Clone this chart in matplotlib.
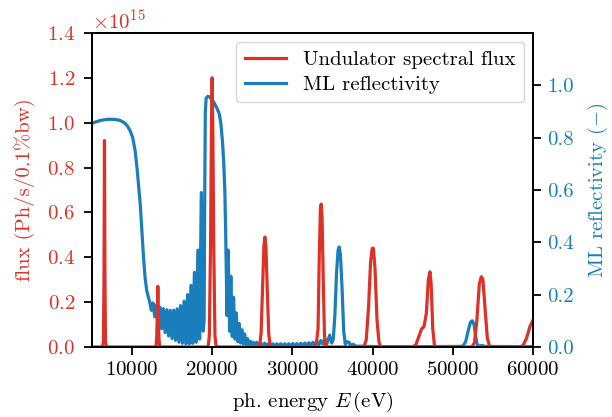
import numpy as np
import matplotlib
matplotlib.use("Agg")
import matplotlib.pyplot as plt

plt.rcParams['font.family'] = ['cmr10', 'DejaVu Serif']
plt.rcParams['mathtext.fontset'] = 'cm'
plt.rcParams['axes.formatter.use_mathtext'] = True
plt.rcParams['axes.unicode_minus'] = False

RED = '#dd3128'
BLUE = '#1a7ebd'

# Undulator spectral flux (units of 1e15 Ph/s/0.1%bw)
flux_E = [5000, 6300, 6450, 6520, 6580, 6640, 6710, 6850,
          13000, 13100, 13170, 13230, 13290, 13360, 13450,
          19500, 19650, 19800, 19920, 20000, 20080, 20200, 20350, 20500,
          25900, 26100, 26300, 26450, 26570, 26700, 26850, 27050, 27250,
          32800, 33000, 33200, 33350, 33500, 33600, 33700, 33850, 34000, 34200,
          38900, 39200, 39500, 39750, 39950, 40100, 40300, 40550, 40800, 41000,
          45000, 45400, 45800, 46100, 46400, 46700, 46950, 47150, 47300, 47500, 47700, 47900,
          52400, 52700, 53000, 53300, 53550, 53750, 54000, 54300, 54600,
          58500, 58800, 59200, 59600, 60000, 60300]
flux_val = [0, 0, 0.02, 0.30, 0.92, 0.30, 0.02, 0,
            0, 0.05, 0.18, 0.27, 0.18, 0.05, 0,
            0, 0.05, 0.45, 1.00, 1.20, 1.00, 0.45, 0.05, 0,
            0, 0.06, 0.28, 0.45, 0.49, 0.45, 0.28, 0.06, 0,
            0, 0.02, 0.08, 0.40, 0.62, 0.637, 0.58, 0.30, 0.05, 0,
            0, 0.03, 0.18, 0.38, 0.44, 0.44, 0.35, 0.12, 0.02, 0,
            0, 0.01, 0.05, 0.08, 0.09, 0.15, 0.30, 0.335, 0.28, 0.08, 0.01, 0,
            0, 0.02, 0.12, 0.28, 0.313, 0.30, 0.18, 0.04, 0,
            0, 0.01, 0.04, 0.09, 0.12, 0.14]

# Multilayer reflectivity
refl_E = [5000, 5500, 6000, 6500, 7000, 7500, 8000, 8500, 9000, 9400, 9800, 10100,
          10400, 10650, 10850, 11050, 11250, 11450, 11650, 11850, 12050,
          12200, 12420, 12630, 12850, 13060, 13280, 13490, 13710, 13920, 14140,
          14350, 14570, 14780, 15000, 15210, 15430, 15640, 15860, 16070, 16290,
          16500, 16720, 16930, 17150, 17360, 17580, 17790, 18010, 18220, 18440,
          18650, 18870,
          19000, 19080, 19150, 19250, 19450, 19700, 20000, 20300, 20600, 20900,
          21100, 21300, 21450, 21580, 21680, 21760, 21850,
          22000, 22180, 22330, 22510, 22670, 22850, 23010, 23190, 23350, 23530,
          23700, 23880, 24050, 24230, 24400, 24580, 24750, 24930, 25100,
          25300, 25550, 25800, 26050, 26300, 26550, 26800, 27050, 27300, 27550,
          27800, 28050, 28300, 28550, 28800, 29050, 29300, 29550, 29800, 30050,
          30300, 30550, 30800, 31050, 31300, 31550, 31800, 32050, 32300, 32550,
          32800, 33050, 33300, 33550, 33800, 34050, 34300, 34650, 34900,
          35100, 35300, 35500, 35700, 35840, 36000, 36200, 36400, 36600, 36800,
          37050, 37300, 37600, 37900, 38500, 39500, 41000, 45000, 51000,
          51300, 51600, 51900, 52200, 52430, 52650, 52850, 53050, 53300, 53600,
          54000, 60000]
refl_val = [0.854, 0.860, 0.865, 0.868, 0.870, 0.870, 0.869, 0.866, 0.858, 0.846, 0.825, 0.800,
            0.750, 0.680, 0.610, 0.540, 0.440, 0.340, 0.262, 0.215, 0.190,
            0.175, 0.140, 0.168, 0.115, 0.160, 0.090, 0.152, 0.070, 0.146, 0.055,
            0.142, 0.042, 0.140, 0.032, 0.141, 0.025, 0.146, 0.018, 0.158, 0.014,
            0.175, 0.012, 0.200, 0.012, 0.235, 0.014, 0.285, 0.018, 0.370, 0.030,
            0.590, 0.060,
            0.100, 0.600, 0.900, 0.950, 0.958, 0.955, 0.945, 0.930, 0.912, 0.890,
            0.850, 0.780, 0.700, 0.600, 0.450, 0.300, 0.120,
            0.370, 0.060, 0.270, 0.040, 0.190, 0.030, 0.130, 0.020, 0.090, 0.015,
            0.066, 0.012, 0.050, 0.010, 0.032, 0.008, 0.022, 0.006, 0.018,
            0.008, 0.018, 0.006, 0.015, 0.005, 0.014, 0.004, 0.013, 0.004, 0.012,
            0.004, 0.012, 0.004, 0.012, 0.004, 0.012, 0.004, 0.012, 0.004, 0.013,
            0.004, 0.013, 0.004, 0.014, 0.005, 0.015, 0.005, 0.016, 0.006, 0.018,
            0.007, 0.020, 0.008, 0.025, 0.010, 0.030, 0.012, 0.045, 0.015,
            0.030, 0.120, 0.280, 0.370, 0.382, 0.350, 0.220, 0.060, 0.010, 0.020,
            0.018, 0.005, 0.010, 0.003, 0.003, 0.002, 0.001, 0.001, 0.002,
            0.005, 0.020, 0.060, 0.095, 0.100, 0.085, 0.040, 0.008, 0.003, 0.006,
            0.002, 0.001]

x_ticks = [10000, 20000, 30000, 40000, 50000, 60000]
left_ticks = [0.0, 0.2, 0.4, 0.6, 0.8, 1.0, 1.2, 1.4]
right_ticks = [0.0, 0.2, 0.4, 0.6, 0.8, 1.0]

fs = 15
fig = plt.figure(figsize=(6.12, 4.17), dpi=100)
ax1 = fig.add_axes([0.150, 0.168, 0.721, 0.753])
ax2 = ax1.twinx()

l1, = ax1.plot(flux_E, np.array(flux_val) * 1e15, color=RED, lw=2.3,
               label='Undulator spectral flux')
l2, = ax2.plot(refl_E, refl_val, color=BLUE, lw=2.3, label='ML reflectivity')

ax1.set_zorder(ax2.get_zorder() + 1)
ax1.patch.set_visible(False)

ax1.set_xlim(5000, 60000)
ax1.set_ylim(0, 1.4e15)
ax2.set_ylim(0, 1.2)
ax1.set_xticks(x_ticks)
ax1.set_yticks([v * 1e15 for v in left_ticks])
ax2.set_yticks(right_ticks)
ax2.set_yticklabels([f'{v:.1f}' for v in right_ticks])

for ax in (ax1, ax2):
    ax.tick_params(direction='out', length=6, width=1.3, labelsize=fs, pad=4)
    for s in ax.spines.values():
        s.set_linewidth(1.3)
ax1.tick_params(axis='y', labelcolor=RED, pad=6)
ax2.tick_params(axis='y', labelcolor=BLUE)
ax1.yaxis.get_offset_text().set_color(RED)
ax1.yaxis.get_offset_text().set_fontsize(fs)

ax1.set_xlabel(r'ph. energy $E\,$(eV)', fontsize=fs, labelpad=8)
ax1.set_ylabel('flux (Ph/s/0.1%bw)', color=RED, fontsize=fs, labelpad=9)
ax2.set_ylabel(r'ML reflectivity $(-)$', color=BLUE, fontsize=fs, labelpad=9)

ax1.legend(handles=[l1, l2], loc='upper right', fontsize=fs,
           labelspacing=0.3, borderaxespad=0.45)

fig.savefig('out.png', dpi=100)
